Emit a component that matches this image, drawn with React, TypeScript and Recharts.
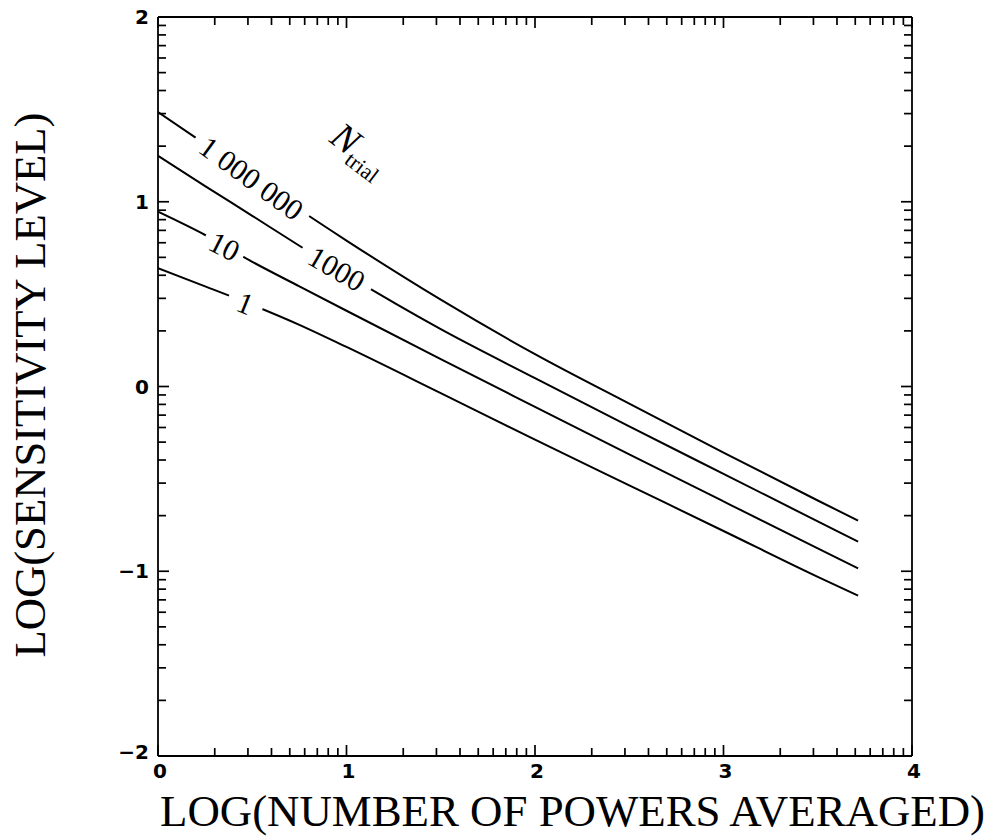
import React from "react";
import { LineChart, Line, XAxis, YAxis, ReferenceDot, Customized } from "recharts";

// log10 of number of powers averaged (shared x grid)
const LOG_M = [0, 0.25, 0.5, 0.75, 1, 1.5, 2, 2.5, 3, 3.5, 3.714];

// log10 sensitivity level, one array per N_trial
const LOG_S_1E6 = [1.486, 1.312, 1.135, 0.958, 0.79, 0.47, 0.175, -0.093, -0.358, -0.617, -0.726];
const LOG_S_1000 = [1.249, 1.085, 0.924, 0.762, 0.605, 0.31, 0.045, -0.216, -0.473, -0.73, -0.84];
const LOG_S_10 = [0.946, 0.82, 0.675, 0.542, 0.41, 0.148, -0.11, -0.367, -0.622, -0.876, -0.984];
const LOG_S_1 = [0.64, 0.542, 0.442, 0.334, 0.214, -0.036, -0.288, -0.535, -0.782, -1.03, -1.132];

const SERIES = [
  { key: "1e6", values: LOG_S_1E6 },
  { key: "1000", values: LOG_S_1000 },
  { key: "10", values: LOG_S_10 },
  { key: "1", values: LOG_S_1 },
];

// curve labels sit on the curves (data coords) and cut a gap in them
const CURVE_LABELS = [
  { text: "1 000 000", x: 0.496, y: 1.128, angle: 36, gap: 138 },
  { text: "1000", x: 0.948, y: 0.638, angle: 30, gap: 80 },
  { text: "10", x: 0.353, y: 0.76, angle: 27, gap: 43 },
  { text: "1", x: 0.464, y: 0.452, angle: 22, gap: 36 },
];

// log-style minor ticks inside each decade
const logTicks = (from: number, to: number) => {
  const out: number[] = [];
  for (let d = from; d < to; d++) {
    out.push(d);
    for (let k = 2; k <= 9; k++) out.push(d + Math.log10(k));
  }
  out.push(to);
  return out;
};
const X_TICKS = logTicks(0, 4);
const Y_TICKS = logTicks(-2, 2);

const isMajor = (v: number) => Math.abs(v - Math.round(v)) < 1e-6;
const MAJ = 11;
const MIN = 8;
const fmt = (v: number) => (v < 0 ? "\u2212" + Math.abs(v) : String(v));

const TickText = ({ x, y, anchor, children }: any) => (
  <text
    x={x}
    y={y}
    textAnchor={anchor}
    fill="#000"
    style={{ fontFamily: "'DejaVu Sans', sans-serif", fontWeight: 700, fontSize: "20px" }}
  >
    {children}
  </text>
);

const BottomTick = (p: any) => {
  const { x, payload } = p;
  const y = 756;
  const m = isMajor(payload.value);
  return (
    <g>
      <line x1={x} y1={y} x2={x} y2={y - (m ? MAJ : MIN)} stroke="#000" strokeWidth={1.7} />
      {m && (
        <TickText x={x + 2} y={y + 22} anchor="middle">
          {fmt(Math.round(payload.value))}
        </TickText>
      )}
    </g>
  );
};

const TopTick = (p: any) => {
  const { x, payload } = p;
  const y = 17;
  const m = isMajor(payload.value);
  return <line x1={x} y1={y} x2={x} y2={y + (m ? MAJ : MIN)} stroke="#000" strokeWidth={1.7} />;
};

const LeftTick = (p: any) => {
  const { y, payload } = p;
  const x = 158;
  const m = isMajor(payload.value);
  const v = Math.round(payload.value);
  return (
    <g>
      <line x1={x} y1={y} x2={x + (m ? MAJ : MIN)} y2={y} stroke="#000" strokeWidth={1.7} />
      {m && (
        <TickText x={x - 9} y={y + 7 - (v === -2 ? 4 : 0)} anchor="end">
          {fmt(v)}
        </TickText>
      )}
    </g>
  );
};

const RightTick = (p: any) => {
  const { y, payload } = p;
  const x = 912;
  const m = isMajor(payload.value);
  return <line x1={x} y1={y} x2={x - (m ? MAJ : MIN)} y2={y} stroke="#000" strokeWidth={1.7} />;
};

const CurveLabel = ({ cx, cy, text, angle, gap }: any) => (
  <g transform={`translate(${cx},${cy}) rotate(${angle})`}>
    <rect x={-gap / 2} y={-14} width={gap} height={28} fill="#fff" />
    <text x={0} y={0} dy="0.35em" textAnchor="middle" fontFamily="'Liberation Serif', serif" fontSize={30} fill="#000">
      {text}
    </text>
  </g>
);

const NTrial = ({ cx, cy }: any) => (
  <g transform={`translate(${cx},${cy}) rotate(37)`}>
    <text x={0} y={0} textAnchor="middle" fontFamily="'Liberation Serif', serif" fill="#000">
      <tspan fontSize={38} fontStyle="italic">N</tspan>
      <tspan fontSize={22} dy={8}>trial</tspan>
    </text>
  </g>
);

const AxisTitles = () => (
  <g fontFamily="'Liberation Serif', serif" fill="#000">
    <text x={160} y={826} fontSize={44} textLength={825} lengthAdjust="spacingAndGlyphs">
      LOG(NUMBER OF POWERS AVERAGED)
    </text>
    <text
      transform="translate(45,385) rotate(-90)"
      x={0}
      y={0}
      textAnchor="middle"
      fontSize={44}
      textLength={545}
      lengthAdjust="spacingAndGlyphs"
    >
      LOG(SENSITIVITY LEVEL)
    </text>
  </g>
);

const axisLine = { stroke: "#000", strokeWidth: 1.8 };

export default function App() {
  return (
    <div style={{ position: "absolute", left: 0, top: 0, background: "#fff" }}>
      <LineChart width={995} height={839} margin={{ top: 16, right: 82, bottom: 82, left: 157 }}>
        <XAxis xAxisId="b" type="number" dataKey="x" domain={[0, 4]} ticks={X_TICKS} interval={0}
          orientation="bottom" height={1} tickSize={0} tickMargin={0} tickLine={false}
          axisLine={axisLine} tick={<BottomTick />} allowDataOverflow />
        <XAxis xAxisId="t" type="number" dataKey="x" domain={[0, 4]} ticks={X_TICKS} interval={0}
          orientation="top" height={1} tickSize={0} tickMargin={0} tickLine={false}
          axisLine={axisLine} tick={<TopTick />} allowDataOverflow />
        <YAxis yAxisId="l" type="number" domain={[-2, 2]} ticks={Y_TICKS} interval={0}
          orientation="left" width={1} tickSize={0} tickMargin={0} tickLine={false}
          axisLine={axisLine} tick={<LeftTick />} allowDataOverflow />
        <YAxis yAxisId="r" type="number" domain={[-2, 2]} ticks={Y_TICKS} interval={0}
          orientation="right" width={1} tickSize={0} tickMargin={0} tickLine={false}
          axisLine={axisLine} tick={<RightTick />} allowDataOverflow />
        {SERIES.map((s) => (
          <Line
            key={s.key}
            xAxisId="b"
            yAxisId="l"
            data={LOG_M.map((x, i) => ({ x, y: s.values[i] }))}
            dataKey="y"
            type="monotone"
            stroke="#000"
            strokeWidth={2}
            dot={false}
            isAnimationActive={false}
          />
        ))}
        {CURVE_LABELS.map((l) => (
          <ReferenceDot key={l.text} xAxisId="b" yAxisId="l" x={l.x} y={l.y} r={0} ifOverflow="visible"
            shape={(p: any) => <CurveLabel cx={p.cx} cy={p.cy} text={l.text} angle={l.angle} gap={l.gap} />} />
        ))}
        <ReferenceDot xAxisId="b" yAxisId="l" x={1.03} y={1.23} r={0} ifOverflow="visible"
          shape={(p: any) => <NTrial cx={p.cx} cy={p.cy} />} />
        <Customized component={<AxisTitles />} />
      </LineChart>
    </div>
  );
}
